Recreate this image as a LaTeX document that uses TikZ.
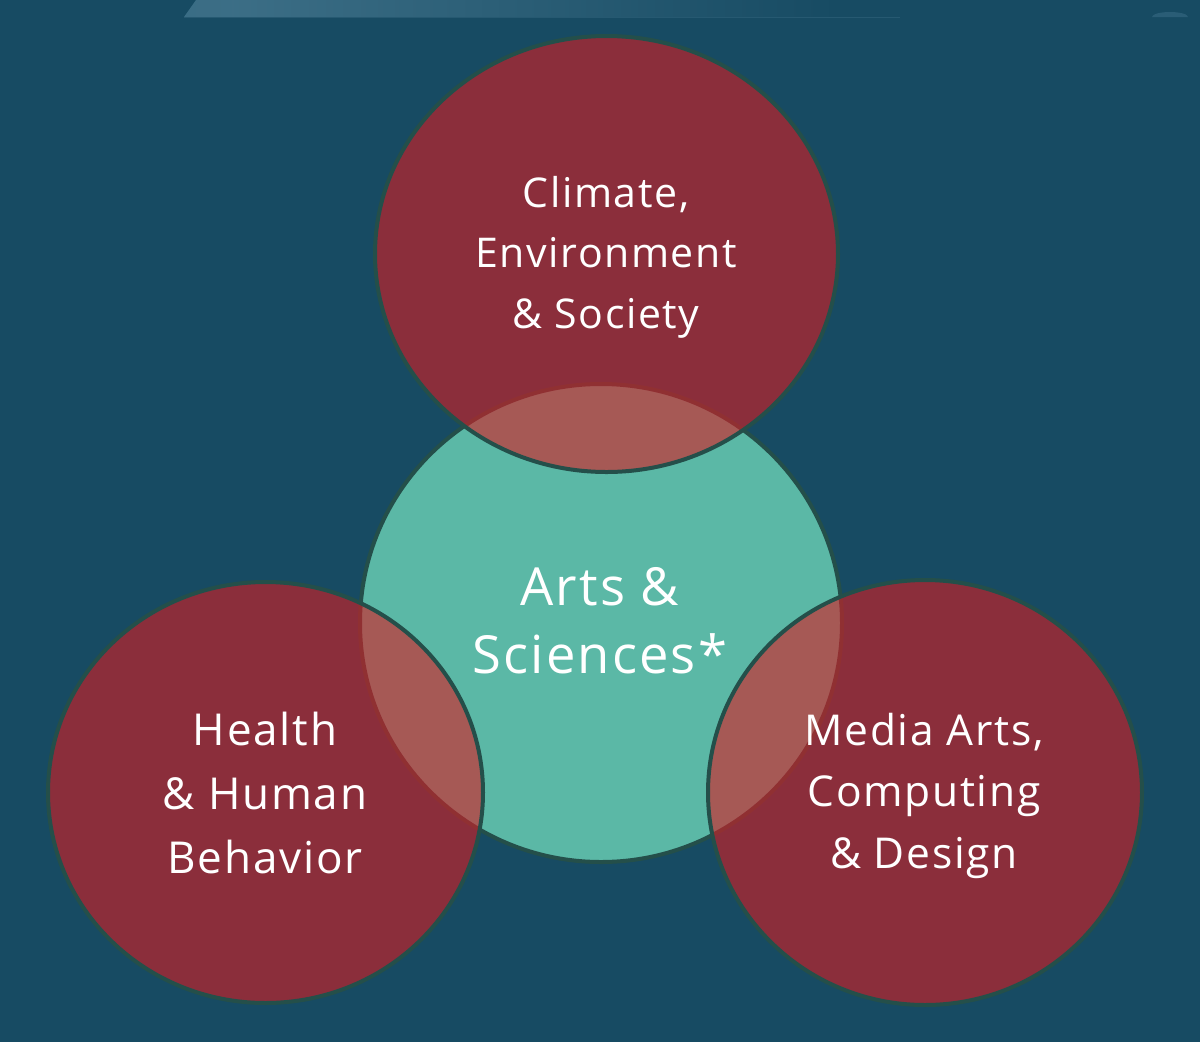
\documentclass[tikz,border=0pt]{standalone}
\usepackage{fontspec}
\setmainfont{Open Sans}[LetterSpace=4]
\usetikzlibrary{shapes.geometric}
\definecolor{bgc}{RGB}{23,75,99}
\definecolor{tealc}{RGB}{91,184,166}
\definecolor{redc}{RGB}{214,29,35}
\definecolor{edgec}{RGB}{36,79,74}
\definecolor{shinec}{RGB}{66,116,140}
\colorlet{shinea}{shinec!55!bgc}
\colorlet{shineb}{shinec!85!bgc}
\pgfdeclarehorizontalshading{shine}{100bp}{color(0bp)=(shinea); color(28bp)=(shineb); color(65bp)=(bgc); color(100bp)=(bgc)}
\tikzset{
  redcirc/.style={fill=redc, fill opacity=0.61, draw=edgec, draw opacity=1, line width=4pt},
  tealcirc/.style={fill=tealc, draw=edgec, line width=4pt},
  lbl/.style={text=white, align=center, inner sep=0pt, anchor=base},
}
\begin{document}
\begin{tikzpicture}[x=1pt,y=-1pt]
\useasboundingbox (0,0) rectangle (1200,1042);
\fill[bgc] (0,0) rectangle (1200,1042);
% top shine
\shade[shading=shine] (184,17) -- (196,0) -- (1000,0) -- (1000,17) -- cycle;
\draw[shinec!35!bgc, line width=0.8pt] (184,17) -- (900,17);
\fill[shinec!45!bgc] (1152,17) arc[start angle=180, end angle=360, x radius=18, y radius=5] -- cycle;
% circles
\path[tealcirc] (601,623) ellipse [x radius=241, y radius=239];
\path[redcirc] (606.5,254) ellipse [x radius=231.5, y radius=218];
\path[redcirc] (265.5,792.5) ellipse [x radius=217.5, y radius=210.5];
\path[redcirc] (925,792.5) ellipse [x radius=217, y radius=212.5];
% labels (anchor base = last line baseline)
\node[lbl, font=\fontsize{41}{60.5}\selectfont] (top) at (606,328) {Climate,\\Environment\\\& Society};
\node[lbl, font=\fontsize{52.5}{68}\selectfont] (mid) at (600,673) {Arts \&\\Sciences*};
\node[lbl, font=\fontsize{44}{64}\selectfont] (left) at (265,873) {Health\\\& Human\\Behavior};
\node[lbl, font=\fontsize{42.5}{61.5}\selectfont] (right) at (924,868) {Media Arts,\\Computing\\\& Design};
\end{tikzpicture}
\end{document}
